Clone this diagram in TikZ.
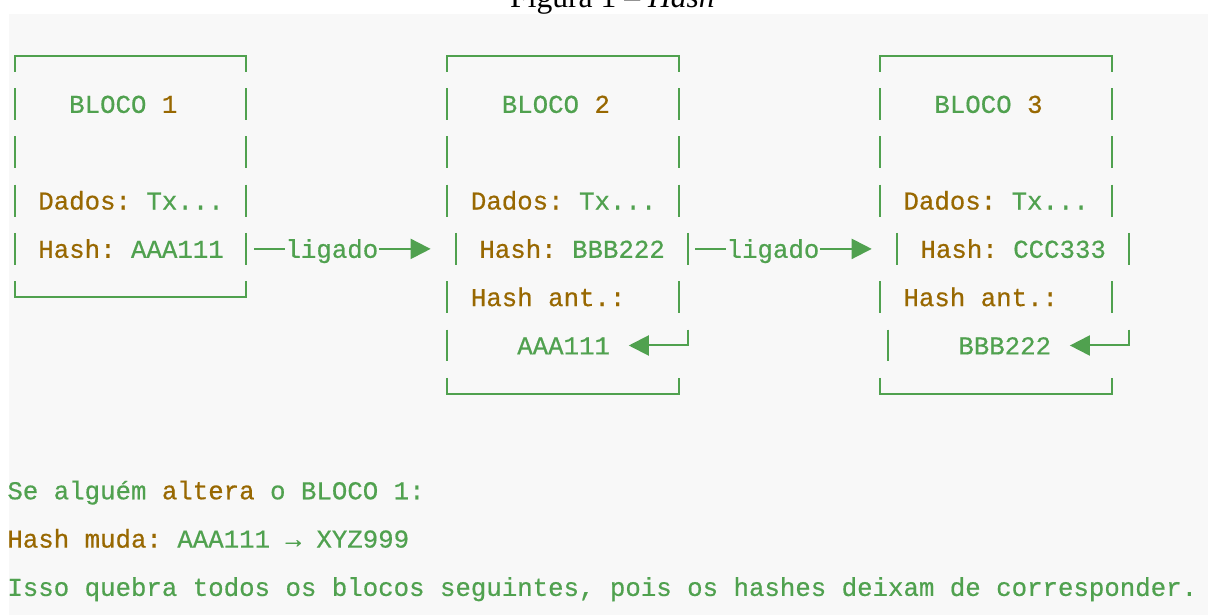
\documentclass[tikz,border=0pt]{standalone}
\usepackage{fontspec}
\setmainfont{Liberation Serif}
\newfontfamily\codefont[FakeBold=0.6]{Liberation Mono}
\usepackage{tikz}
\usetikzlibrary{arrows.meta,positioning}
\frenchspacing

\definecolor{codegreen}{HTML}{50A14F}
\definecolor{codebrown}{HTML}{986801}
\definecolor{codebg}{HTML}{F8F8F8}
\newcommand{\brn}[1]{\textcolor{codebrown}{#1}}

\begin{document}
% one x unit = one character cell, one y unit = one text line
\begin{tikzpicture}[x=7.725pt,y=-24.15pt,
    code/.style={inner sep=0pt,anchor=west,text height=8.9pt,text depth=0pt,
      text=codegreen,font=\codefont\fontsize{12.875pt}{15pt}\selectfont},
    frame/.style={draw=codegreen,line width=1pt},
    link/.style={frame,-{Triangle[length=10pt,width=10pt]}}]
  \useasboundingbox (-0.4531,-1.1532) rectangle (77.735,11.5797);
  \clip (-0.4531,-1.1532) rectangle (77.735,11.5797);
  \node[anchor=base,font=\fontsize{15.8pt}{19pt}\selectfont] (cap) at (39.19,-1.008) {Figura 1 – \textit{Hash}};
  \fill[codebg] (0.129,-0.863) rectangle (77.735,11.58);

  % top and bottom edges of the blocks
  \foreach \l/\b in {0/5,28/7,56/7} {
    \draw[frame] (\l+.5,.33) -- (\l+.5,0) -- (\l+15.5,0) -- (\l+15.5,.33);
    \draw[frame] (\l+.5,\b-.33) -- (\l+.5,\b) -- (\l+15.5,\b) -- (\l+15.5,\b-.33);
  }
  % side bars, one per line
  \foreach \l in {0,28,56}
    \foreach \r in {1,2,3}
      \draw[frame] (\l+.5,\r-.33) -- (\l+.5,\r+.33) (\l+15.5,\r-.33) -- (\l+15.5,\r+.33);
  % line 4 is pushed right by every arrow head before it
  \foreach \l/\s in {0/0,28/.55,56/1.1}
    \draw[frame] (\l+\s+.5,3.67) -- (\l+\s+.5,4.33) (\l+\s+15.5,3.67) -- (\l+\s+15.5,4.33);
  \foreach \l in {28,56}
    \draw[frame] (\l+.5,4.67) -- (\l+.5,5.33) (\l+15.5,4.67) -- (\l+15.5,5.33);
  \draw[frame] (28.5,5.67) -- (28.5,6.33) (57.05,5.67) -- (57.05,6.33);

  % block contents
  \foreach \i/\l in {1/0,2/28,3/56} {
    \node[code] (t_\i) at (\l+4,1) {BLOCO \brn{\i}};
    \node[code] (d_\i) at (\l+2,3) {\brn{Dados:} Tx...};
  }
  \node[code] (h_1) at (2,4) {\brn{Hash:} AAA111};
  \node[code] (h_2) at (30.55,4) {\brn{Hash:} BBB222};
  \node[code] (h_3) at (59.1,4) {\brn{Hash:} CCC333};
  \node[code] (a_2) at (30,5) {\brn{Hash ant.:}};
  \node[code] (a_3) at (58,5) {\brn{Hash ant.:}};
  \node[code] (p_2) at (33,6) {AAA111};
  \node[code] (p_3) at (61.55,6) {BBB222};

  % forward links
  \node[code] (l_1) at (18,4) {ligado};
  \node[code] (l_2) at (46.55,4) {ligado};
  \coordinate (o_1) at (16,4);
  \coordinate (e_1) at (27.42,4);
  \coordinate (o_2) at (44.55,4);
  \coordinate (e_2) at (55.97,4);
  \draw[link] (o_1) -- (l_1.west) (l_1.east) -- (e_1);
  \draw[link] (o_2) -- (l_2.west) (l_2.east) -- (e_2);

  % previous hash pointers
  \coordinate (k_2) at (44.05,5.67);
  \coordinate (k_3) at (72.6,5.67);
  \draw[link,shorten >=9.2pt] (k_2) |- (p_2.east);
  \draw[link,shorten >=9.2pt] (k_3) |- (p_3.east);

  % note below
  \node[code] (n_1) at (0,9) {Se alguém \brn{altera} o BLOCO 1:};
  \node[code] (n_2) at (0,10) {\brn{Hash muda:} AAA111 → XYZ999};
  \node[code] (n_3) at (0,11) {Isso quebra todos os blocos seguintes, pois os hashes deixam de corresponder.};
\end{tikzpicture}
\end{document}
